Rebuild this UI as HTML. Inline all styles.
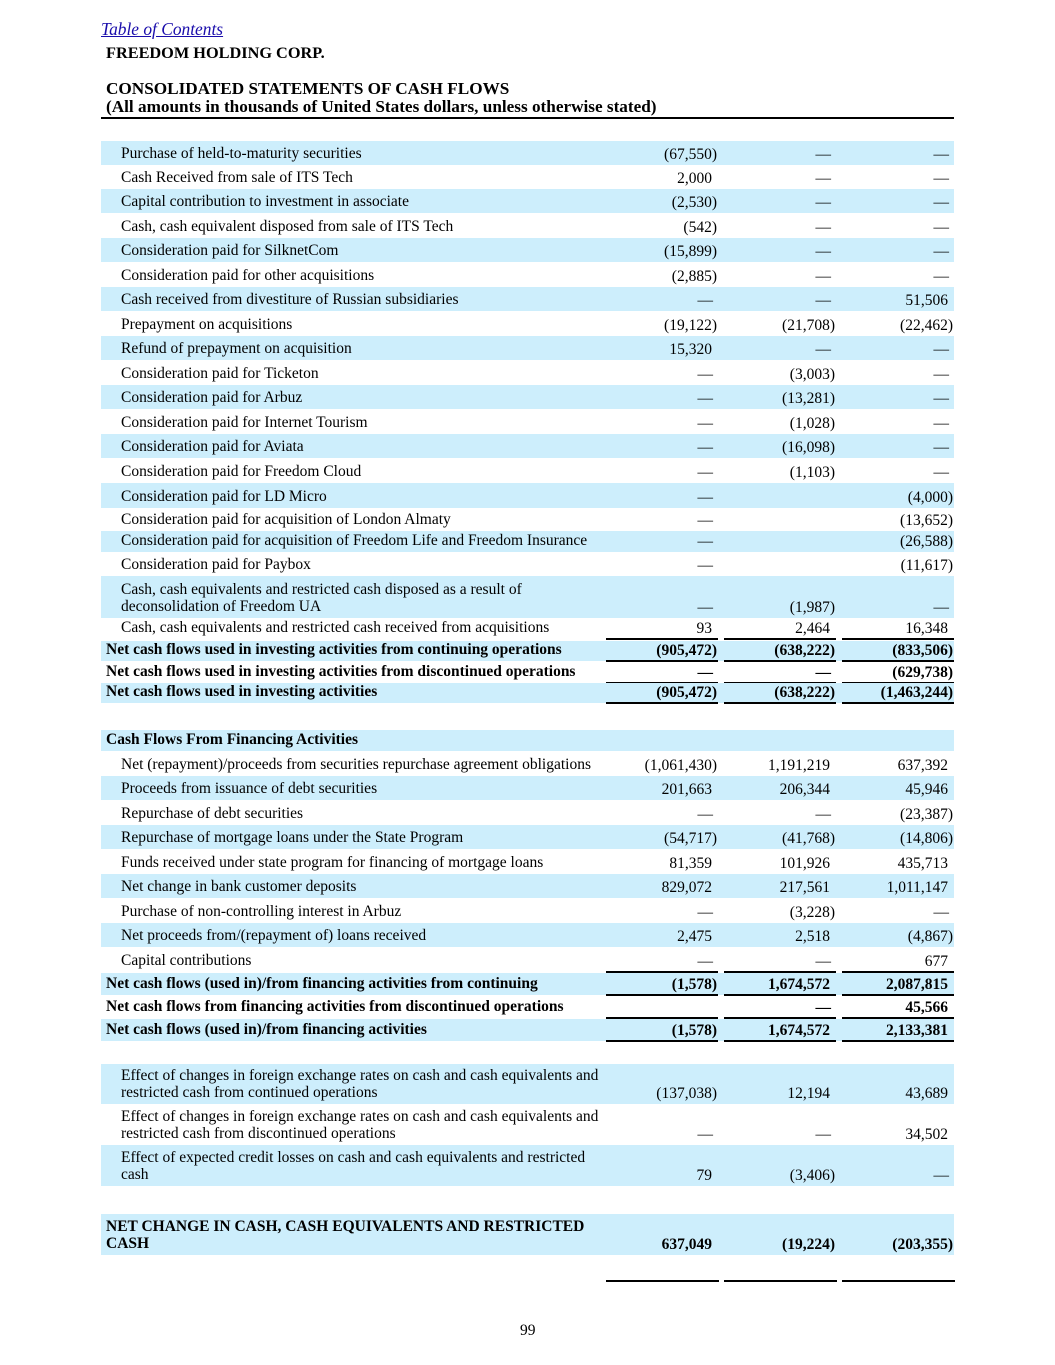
<!DOCTYPE html>
<html><head><meta charset="utf-8">
<style>
body{margin:0;width:1055px;height:1365px;background:#fff;position:relative;font-family:"Liberation Serif",serif;color:#000;overflow:hidden}
.a{position:absolute;white-space:nowrap}
.row{position:absolute;left:101px;width:853px}
.sh{background:#cdeefc}
.lbl{position:absolute;bottom:2px;font-size:15.5px;line-height:17px;white-space:nowrap}
.val{position:absolute;bottom:2px;font-size:15.5px;line-height:17px;text-align:right;width:115px}
.b{font-weight:bold}
.ul{position:absolute;height:1.5px;background:#000}
</style></head><body>
<div class="a" style="left:101px;top:19px;font-size:17.4px;font-style:italic;color:#1a0dab;text-decoration:underline">Table of Contents</div>
<div class="a b" style="left:106px;top:43px;font-size:16.3px">FREEDOM HOLDING CORP.</div>
<div class="a b" style="left:106px;top:80px;font-size:17.2px;line-height:18px">CONSOLIDATED STATEMENTS OF CASH FLOWS<br>(All amounts in thousands of United States dollars, unless otherwise stated)</div>
<div class="a" style="left:101px;top:117px;width:853px;height:2px;background:#000"></div>
<div id="tbl"></div>
<div class="a" style="left:520px;top:1322px;font-size:15.5px">99</div>
<script>
const D='—';
// [label, v1, v2, v3, top, height, shaded, bold, underline]
const rows=[
["Purchase of held-to-maturity securities","(67,550)",D,D,141,24,1,0,0],
["Cash Received from sale of ITS Tech","2,000",D,D,165,24,0,0,0],
["Capital contribution to investment in associate","(2,530)",D,D,189,24,1,0,0],
["Cash, cash equivalent disposed from sale of ITS Tech","(542)",D,D,213,25,0,0,0],
["Consideration paid for SilknetCom","(15,899)",D,D,238,24,1,0,0],
["Consideration paid for other acquisitions","(2,885)",D,D,262,25,0,0,0],
["Cash received from divestiture of Russian subsidiaries",D,D,"51,506",287,24,1,0,0],
["Prepayment on acquisitions","(19,122)","(21,708)","(22,462)",311,25,0,0,0],
["Refund of prepayment on acquisition","15,320",D,D,336,24,1,0,0],
["Consideration paid for Ticketon",D,"(3,003)",D,360,25,0,0,0],
["Consideration paid for Arbuz",D,"(13,281)",D,385,24,1,0,0],
["Consideration paid for Internet Tourism",D,"(1,028)",D,409,25,0,0,0],
["Consideration paid for Aviata",D,"(16,098)",D,434,24,1,0,0],
["Consideration paid for Freedom Cloud",D,"(1,103)",D,458,25,0,0,0],
["Consideration paid for LD Micro",D,"","(4,000)",483,25,1,0,0],
["Consideration paid for acquisition of London Almaty",D,"","(13,652)",508,23,0,0,0],
["Consideration paid for acquisition of Freedom Life and Freedom Insurance",D,"","(26,588)",531,21,1,0,0],
["Consideration paid for Paybox",D,"","(11,617)",552,24,0,0,0],
["Cash, cash equivalents and restricted cash disposed as a result of<br>deconsolidation of Freedom UA",D,"(1,987)",D,576,42,1,0,0],
["Cash, cash equivalents and restricted cash received from acquisitions","93","2,464","16,348",618,21,0,0,1],
["Net cash flows used in investing activities from continuing operations","(905,472)","(638,222)","(833,506)",641,20,1,1,1],
["Net cash flows used in investing activities from discontinued operations",D,D,"(629,738)",661,22,0,1,1],
["Net cash flows used in investing activities","(905,472)","(638,222)","(1,463,244)",683,20,1,1,1],
["Cash Flows From Financing Activities","","","",730,21,1,1,0],
["Net (repayment)/proceeds from securities repurchase agreement obligations","(1,061,430)","1,191,219","637,392",751,25,0,0,0],
["Proceeds from issuance of debt securities","201,663","206,344","45,946",776,24,1,0,0],
["Repurchase of debt securities",D,D,"(23,387)",800,25,0,0,0],
["Repurchase of mortgage loans under the State Program","(54,717)","(41,768)","(14,806)",825,24,1,0,0],
["Funds received under state program for financing of mortgage loans","81,359","101,926","435,713",849,25,0,0,0],
["Net change in bank customer deposits","829,072","217,561","1,011,147",874,24,1,0,0],
["Purchase of non-controlling interest in Arbuz",D,"(3,228)",D,898,25,0,0,0],
["Net proceeds from/(repayment of) loans received","2,475","2,518","(4,867)",923,24,1,0,0],
["Capital contributions",D,D,"677",947,25,0,0,1],
["Net cash flows (used in)/from financing activities from continuing","(1,578)","1,674,572","2,087,815",973,22,1,1,1],
["Net cash flows from financing activities from discontinued operations","",D,"45,566",995,23,0,1,1],
["Net cash flows (used in)/from financing activities","(1,578)","1,674,572","2,133,381",1019,22,1,1,1],
["Effect of changes in foreign exchange rates on cash and cash equivalents and<br>restricted cash from continued operations","(137,038)","12,194","43,689",1064,40,1,0,0],
["Effect of changes in foreign exchange rates on cash and cash equivalents and<br>restricted cash from discontinued operations",D,D,"34,502",1104,41,0,0,0],
["Effect of expected credit losses on cash and cash equivalents and restricted<br>cash","79","(3,406)",D,1145,41,1,0,0],
["NET CHANGE IN CASH, CASH EQUIVALENTS AND RESTRICTED<br>CASH","637,049","(19,224)","(203,355)",1214,41,1,1,0]
];
const colRight=[717,835,953];
const tbl=document.getElementById('tbl');
rows.forEach((r,i)=>{
  const row=document.createElement('div');
  row.className='row'+(r[6]?' sh':'');
  row.style.top=r[4]+'px';row.style.height=r[5]+'px';
  
  
  const l=document.createElement('div');
  l.className='lbl'+(r[7]?' b':'');
  l.style.left=(r[7]?5:20)+'px';
  l.style.bottom='3px';
  l.innerHTML=r[0];
  
  
  row.appendChild(l);
  for(let c=0;c<3;c++){
    const t=r[1+c];if(!t)continue;
    const v=document.createElement('div');
    v.className='val'+(r[7]?' b':'');
    const pad=(t[t.length-1]===')')?0:(t===D?4:5);
    v.style.left=(colRight[c]-101-115-pad)+'px';
    v.textContent=t;
    
    
    row.appendChild(v);
  }
  tbl.appendChild(row);
  if(r[8]){
    for(let c=0;c<3;c++){
      const u=document.createElement('div');
      u.className='ul';
      u.style.left=(colRight[c]-111)+'px';u.style.width='112px';
      u.style.top=(r[4]+r[5]-1)+'px';
      
      
      tbl.appendChild(u);
    }
  }
});
for(let c=0;c<3;c++){
  const u=document.createElement('div');
  u.className='ul';
  u.style.left=(colRight[c]-111)+'px';u.style.width='113px';u.style.top='1280px';u.style.height='2px';
  
  
  tbl.appendChild(u);
}
</script>
</body></html>
